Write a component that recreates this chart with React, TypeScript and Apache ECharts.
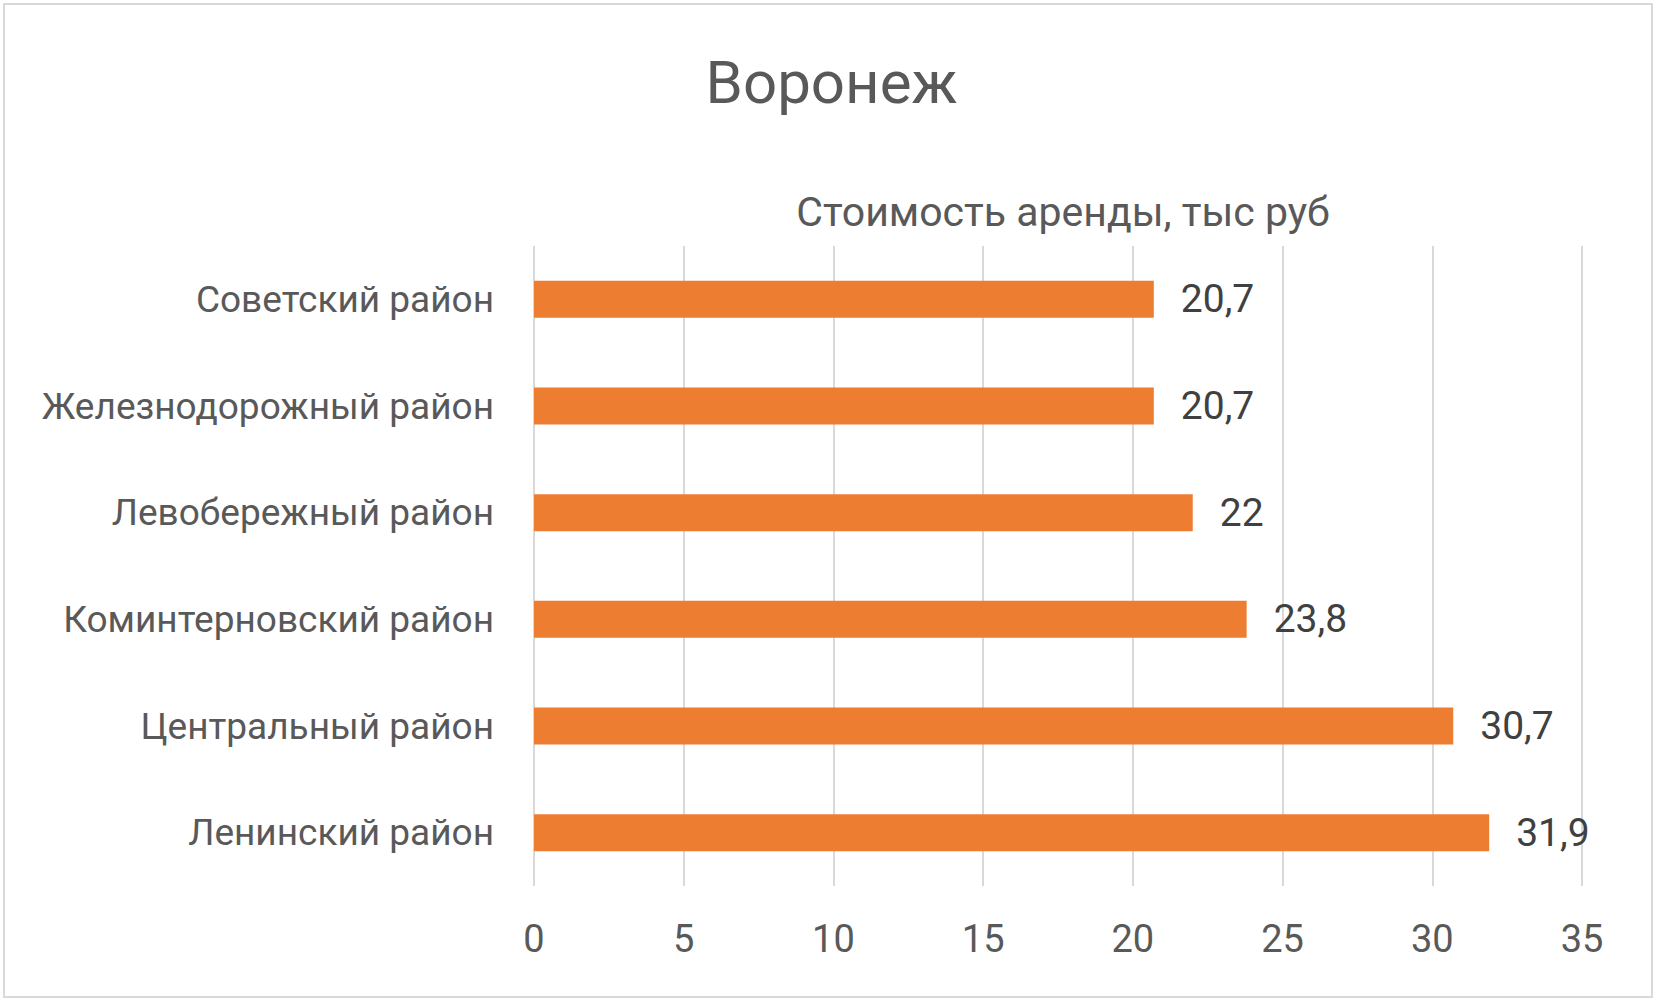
import React, { useEffect, useRef } from "react";
import * as echarts from "echarts";

const chartTitle = "Воронеж";
const seriesName = "Стоимость аренды, тыс руб";
const categories = [
  "Ленинский район",
  "Центральный район",
  "Коминтерновский район",
  "Левобережный район",
  "Железнодорожный район",
  "Советский район",
];
const values = [31.9, 30.7, 23.8, 22, 20.7, 20.7];
const axisMin = 0;
const axisMax = 35;
const axisStep = 5;

const FONT = "Roboto, 'Noto Sans', sans-serif";

export default function App() {
  const ref = useRef<HTMLDivElement>(null);
  useEffect(() => {
    document.body.style.margin = "0";
    const chart = echarts.init(ref.current!, null, { renderer: "svg" });
    chart.setOption({
      animation: false,
      backgroundColor: "#ffffff",
      title: [
        {
          text: chartTitle,
          left: "center",
          top: 47,
          textStyle: { fontFamily: FONT, fontSize: 60, fontWeight: "normal", color: "#595959" },
        },
        {
          text: seriesName,
          left: 1058,
          textAlign: "center",
          top: 186,
          textStyle: { fontFamily: FONT, fontSize: 41, fontWeight: "normal", color: "#595959" },
        },
      ],
      graphic: [
        {
          type: "rect",
          shape: { x: 4, y: 4, width: 1648, height: 993 },
          style: { fill: "none", stroke: "#D9D9D9", lineWidth: 2 },
          silent: true,
        },
      ],
      grid: { left: 534, right: 1663 - 1582, top: 246, bottom: 1003 - 886, containLabel: false },
      xAxis: {
        type: "value",
        min: axisMin,
        max: axisMax,
        interval: axisStep,
        axisLine: { show: false },
        axisTick: { show: false },
        splitLine: { show: true, lineStyle: { color: "#D9D9D9", width: 2 } },
        axisLabel: {
          fontFamily: FONT,
          fontSize: 38,
          color: "#595959",
          margin: 34,
          formatter: (v: number) => String(v).replace(".", ","),
        },
      },
      yAxis: {
        type: "category",
        data: categories,
        axisLine: { show: false },
        axisTick: { show: false },
        axisLabel: { fontFamily: FONT, fontSize: 37, color: "#595959", margin: 40 },
      },
      series: [
        {
          name: seriesName,
          type: "bar",
          data: values,
          barWidth: 37,
          itemStyle: { color: "#ED7D31" },
          label: {
            show: true,
            position: "right",
            distance: 27,
            fontFamily: FONT,
            fontSize: 39,
            color: "#404040",
            formatter: (p: any) => String(p.value).replace(".", ","),
          },
        },
      ],
    });
    return () => chart.dispose();
  }, []);
  return <div ref={ref} style={{ width: 1663, height: 1003 }} />;
}
